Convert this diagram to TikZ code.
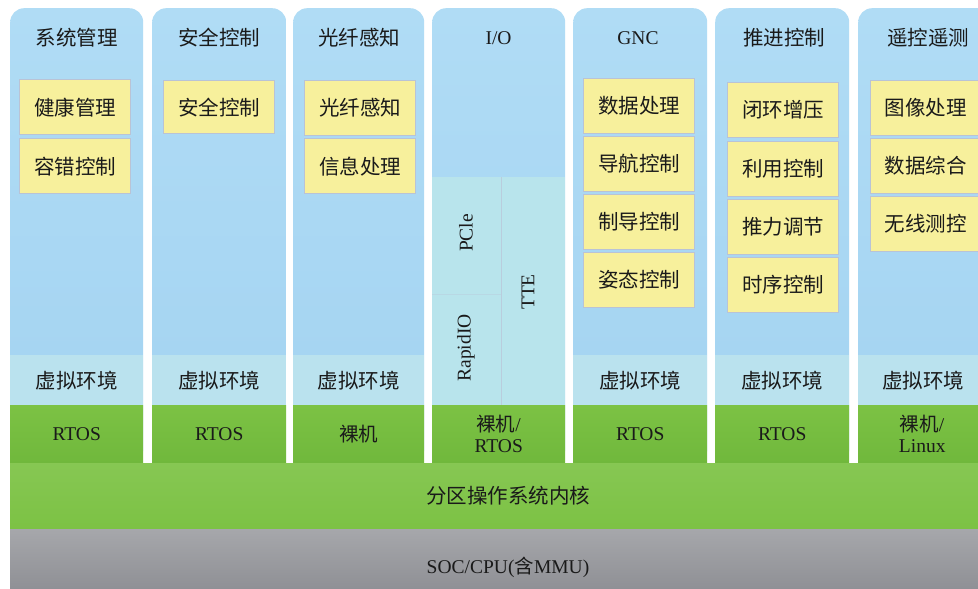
\documentclass[tikz,border=0pt]{standalone}
\usepackage{fontspec}
\setmainfont{Liberation Serif}
\newfontfamily\cjk{Noto Sans CJK SC}
\definecolor{colblue}{HTML}{A3D3F1}
\definecolor{colbluetop}{HTML}{B0DCF5}
\definecolor{bandblue}{HTML}{BAE2EE}
\definecolor{ioteal}{HTML}{B8E4EC}
\definecolor{boxyellow}{HTML}{F7F09C}
\definecolor{boxedge}{HTML}{B9C3D6}
\definecolor{greenA}{HTML}{7CC244}
\definecolor{greenB}{HTML}{70B83C}
\definecolor{grayA}{HTML}{A6A7AB}
\definecolor{grayB}{HTML}{8F9095}
\definecolor{txt}{HTML}{1A1A1A}
\tikzset{
  colbox/.style={top color=colbluetop, bottom color=colblue, rounded corners=14pt,
    minimum height=455pt, anchor=north west, inner sep=0pt},
  ybox/.style={fill=boxyellow, draw=boxedge, line width=1.3pt, minimum width=111pt,
    minimum height=55pt, anchor=north west, inner sep=0pt, text=txt,
    font=\cjk\fontsize{20.5}{23}\selectfont},
  cjktext/.style={text=txt, font=\cjk\fontsize{20.5}{23}\selectfont, inner sep=0pt},
  lattext/.style={text=txt, font=\fontsize{19.5}{22}\selectfont, inner sep=0pt, align=center},
  bandbox/.style={fill=bandblue, minimum height=50pt, anchor=north west, inner sep=0pt, text=txt,
    font=\cjk\fontsize{20.5}{23}\selectfont},
  greenbox/.style={top color=greenA, bottom color=greenB, minimum height=58pt, anchor=north west,
    inner sep=0pt, text=txt, align=center, font=\fontsize{19.5}{24}\selectfont},
}
\begin{document}
\begin{tikzpicture}[x=1pt,y=-1pt]
\useasboundingbox (0,0) rectangle (978,589);
\clip (0,0) rectangle (978,589);
\fill[white] (0,0) rectangle (978,589);
% columns
\node[colbox, minimum width=133pt] (c1) at (10,8) {};
\node[colbox, minimum width=134pt] (c2) at (152,8) {};
\node[colbox, minimum width=131pt] (c3) at (293,8) {};
\node[colbox, minimum width=133pt] (c4) at (432,8) {};
\node[colbox, minimum width=134pt] (c5) at (573,8) {};
\node[colbox, minimum width=134pt] (c6) at (715,8) {};
\node[colbox, minimum width=140pt] (c7) at (858,8) {};
% headings
\node[cjktext] (h1) at (76.5,38) {系统管理};
\node[cjktext] (h2) at (219,38) {安全控制};
\node[cjktext] (h3) at (359,38) {光纤感知};
\node[lattext] (h4) at (498.5,38) {I/O};
\node[lattext] (h5) at (638,38) {GNC};
\node[cjktext] (h6) at (784,38) {推进控制};
\node[cjktext] (h7) at (928,38) {遥控遥测};
% yellow boxes
\node[ybox] (b11) at (19,79) {健康管理};
\node[ybox] (b12) at (19,138) {容错控制};
\node[ybox, minimum height=53pt] (b21) at (163,80) {安全控制};
\node[ybox] (b31) at (304,80) {光纤感知};
\node[ybox] (b32) at (304,138) {信息处理};
\node[ybox] (b51) at (583,78) {数据处理};
\node[ybox] (b52) at (583,136) {导航控制};
\node[ybox] (b53) at (583,194) {制导控制};
\node[ybox] (b54) at (583,252) {姿态控制};
\node[ybox] (b61) at (727,82) {闭环增压};
\node[ybox] (b62) at (727,141) {利用控制};
\node[ybox] (b63) at (727,199) {推力调节};
\node[ybox] (b64) at (727,257) {时序控制};
\node[ybox, minimum width=112pt] (b71) at (870,80) {\hspace*{-2pt}图像处理};
\node[ybox, minimum width=112pt] (b72) at (870,138) {\hspace*{-2pt}数据综合};
\node[ybox, minimum width=112pt] (b73) at (870,196) {\hspace*{-2pt}无线测控};
% I/O interior
\node[fill=ioteal, minimum width=133pt, minimum height=228pt, anchor=north west, inner sep=0pt] (io) at (432,177) {};
\coordinate (ioTop) at (501,177);
\coordinate (ioBot) at (501,405);
\draw[boxedge!70!ioteal, line width=0.8pt] (ioTop) -- (ioBot);
\coordinate (ioL) at (432,294);
\coordinate (ioM) at (501,294);
\draw[boxedge!35!ioteal, line width=0.8pt] (ioL) -- (ioM);
\node[lattext, rotate=90] (pcie) at (466,233) {PCle};
\node[lattext, rotate=90] (rio) at (466,348) {RapidIO};
\node[lattext, rotate=90] (tte) at (528,292) {TTE};
% virtual env bands
\node[bandbox, minimum width=133pt] (v1) at (10,355) {虚拟环境};
\node[bandbox, minimum width=134pt] (v2) at (152,355) {虚拟环境};
\node[bandbox, minimum width=131pt] (v3) at (293,355) {虚拟环境};
\node[bandbox, minimum width=134pt] (v5) at (573,355) {虚拟环境};
\node[bandbox, minimum width=134pt] (v6) at (715,355) {虚拟环境};
\node[bandbox, minimum width=140pt] (v7) at (858,355) {\hspace*{-10pt}虚拟环境};
% green per column
\node[greenbox, minimum width=133pt] (g1) at (10,405) {RTOS};
\node[greenbox, minimum width=134pt] (g2) at (152,405) {RTOS};
\node[greenbox, minimum width=131pt] (g3) at (293,405) {\cjk 裸机};
\node[greenbox, minimum width=133pt] (g4) at (432,405) {{\cjk 裸机}/\\[-3pt]RTOS};
\node[greenbox, minimum width=134pt] (g5) at (573,405) {RTOS};
\node[greenbox, minimum width=134pt] (g6) at (715,405) {RTOS};
\node[greenbox, minimum width=140pt] (g7) at (858,405) {\hspace*{-12pt}{\cjk 裸机}/\\[-3pt]\hspace*{-12pt}Linux};
% kernel
\node[top color=greenA!92!white, bottom color=greenA, minimum width=968pt, minimum height=66pt, anchor=north west, inner sep=0pt] (kern) at (10,463) {};
\node[cjktext] (kernt) at (508,496) {分区操作系统内核};
% hardware
\node[top color=grayA, bottom color=grayB, minimum width=968pt, minimum height=60pt, anchor=north west, inner sep=0pt] (hw) at (10,529) {};
\node[lattext] (hwt) at (508,567) {SOC/CPU({\cjk 含}MMU)};
\end{tikzpicture}
\end{document}
